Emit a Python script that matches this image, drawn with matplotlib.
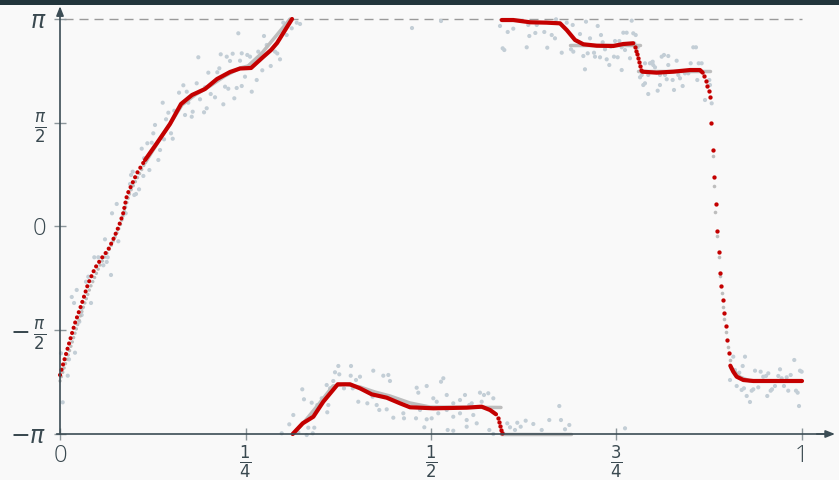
import numpy as np
import matplotlib
matplotlib.use("Agg")
import matplotlib.pyplot as plt

PI = np.pi

# ---------------- data (t in [0,1], phase in radians) ----------------
obs_t = [0.0764, 0.0885, 0.0701, 0.0606, 0.0786, 0.0643, 0.0462, 0.0516, 0.0629, 0.0584,
         0.0687, 0.0381, 0.0350, 0.0225, 0.0158, 0.0189, 0.0418, 0.0292, 0.0292, 0.0260,
         0.0202, 0.0013, 0.0121, 0.0104, 0.0036,
         0.1864, 0.1999, 0.1662, 0.1842, 0.1604, 0.1708, 0.1729, 0.1887, 0.1977, 0.1788,
         0.1685, 0.1384, 0.1460, 0.1540, 0.1429, 0.1280, 0.1257, 0.1496, 0.1402, 0.1519,
         0.1177, 0.1101, 0.1348, 0.1236, 0.1325, 0.1132, 0.1204, 0.0980, 0.0957, 0.1123,
         0.0943, 0.1065, 0.1024, 0.1001,
         0.2403, 0.2749, 0.3055, 0.3009, 0.3123, 0.3190, 0.3235, 0.2166, 0.2247, 0.2327,
         0.2449, 0.2524, 0.2561, 0.2291, 0.2426, 0.2672, 0.2786, 0.2898, 0.2928, 0.2965,
         0.2840, 0.2726, 0.2651, 0.2584, 0.2449, 0.2381, 0.2493, 0.2147, 0.2120, 0.1954,
         0.2224, 0.2268, 0.2031, 0.2089, 0.2349, 0.2201, 0.1941, 0.1775,
         0.4744, 0.5135, 0.7615,
         0.3751, 0.3922, 0.3706, 0.3764, 0.3918, 0.4043, 0.3989, 0.4222, 0.4357, 0.4425,
         0.4447, 0.3683, 0.3594, 0.3265, 0.3288, 0.3392, 0.3527, 0.3468, 0.3616, 0.3639,
         0.3827, 0.3945, 0.4020, 0.4142, 0.4214, 0.4268, 0.4303, 0.4403, 0.4492, 0.4627,
         0.4636, 0.4559, 0.3144, 0.3090, 0.2988, 0.3325, 0.3346, 0.3427, 0.3406, 0.3212,
         0.3602,
         0.4807, 0.4829, 0.4942, 0.5135, 0.5166, 0.5031, 0.5077, 0.5212, 0.5300, 0.5391,
         0.5458, 0.5549, 0.5660, 0.5714, 0.5772, 0.5840, 0.5683, 0.5516, 0.4852, 0.4942,
         0.4798, 0.5098, 0.5212, 0.5300, 0.5391, 0.5481, 0.5570, 0.4910, 0.5009, 0.5225,
         0.5300, 0.5481, 0.5616, 0.5786, 0.5840,
         0.6028, 0.6065, 0.6163, 0.6209, 0.6276, 0.6132, 0.6379, 0.6492, 0.6594, 0.6729,
         0.6752, 0.6806, 0.6864, 0.5974,
         0.5930, 0.5966, 0.5988, 0.6034, 0.6109, 0.6290, 0.6325, 0.6311, 0.6425, 0.6406,
         0.6527, 0.6567, 0.6627, 0.6671, 0.6685, 0.6829, 0.6910, 0.6762, 0.6887, 0.7008,
         0.6918, 0.7089, 0.7143, 0.7247, 0.7291, 0.7314, 0.7053, 0.7112, 0.7197, 0.7278,
         0.7210, 0.7368, 0.7422, 0.7345, 0.7480, 0.7538, 0.7570, 0.7615, 0.7466, 0.7516,
         0.7403, 0.7592, 0.7637, 0.7705, 0.7726, 0.7759, 0.7740, 0.7786, 0.7075, 0.7570,
         0.7682,
         0.7951, 0.7988, 0.7884, 0.8109, 0.8140, 0.8198, 0.8311, 0.7928, 0.7884, 0.7861,
         0.8055, 0.8086, 0.8154, 0.8177, 0.8275, 0.8257, 0.8333, 0.8356, 0.8392, 0.8423,
         0.8468, 0.8500, 0.8535, 0.8571, 0.8608, 0.8648, 0.8589, 0.8751, 0.8760, 0.8693,
         0.8783, 0.7817, 0.7840, 0.7928, 0.7995, 0.8019, 0.8198, 0.8086, 0.7974,
         0.9030, 0.9074, 0.9097, 0.9155, 0.9120, 0.9187, 0.9218, 0.9255, 0.9299, 0.9201,
         0.9232, 0.9322, 0.9344, 0.9367, 0.9411, 0.9443, 0.9478, 0.9515, 0.9546, 0.9532,
         0.9578, 0.9596, 0.9636, 0.9681, 0.9704, 0.9726, 0.9757, 0.9794, 0.9815, 0.9848,
         0.9896, 0.9919, 0.9942, 0.9960, 0.9973, 0.9996]
obs_phi = [0.341, 0.200, 0.200, -0.194, -0.224, -0.466, -0.466, -0.466, -0.537, -0.587,
           -0.734, -0.760, -0.836, -0.961, -1.067, -1.158, -1.158, -1.238, -1.340, -1.441,
           -1.911, -1.920, -2.011, -2.259, -2.662,
           2.562, 2.329, 2.138, 2.168, 2.026, 2.041, 1.874, 1.926, 1.790, 1.738,
           1.688, 1.874, 1.723, 1.753, 1.623, 1.537, 1.411, 1.411, 1.320, 1.329,
           1.260, 1.178, 1.158, 1.269, 1.007, 1.033, 0.855, 0.830, 0.780, 0.765,
           0.643, 0.563, 0.492, 0.477,
           2.925, 2.884, 2.899, 3.086, 3.001, 3.086, 3.066, 2.607, 2.571, 2.616,
           2.622, 2.597, 2.571, 2.506, 2.510, 2.647, 2.748, 2.647, 2.620, 2.531,
           2.430, 2.365, 2.218, 2.041, 2.127, 2.097, 2.268, 2.395, 2.335, 2.107,
           2.117, 2.086, 2.006, 1.956, 1.941, 1.850, 1.729, 1.662,
           3.005, 3.111, -3.055,
           -2.112, -2.112, -2.207, -2.238, -2.259, -2.274, -2.324, -2.183, -2.259, -2.248,
           -2.339, -2.339, -2.400, -2.465, -2.616, -2.668, -2.601, -2.703, -2.703, -2.450,
           -2.450, -2.450, -2.653, -2.677, -2.577, -2.703, -2.778, -2.768, -2.895, -2.828,
           -2.904, -2.627, -2.854, -2.995, -3.131, -3.157, -3.046, -3.046, -3.131, -3.116,
           -2.813,
           -2.441, -2.516, -2.415, -2.350, -2.298, -2.601, -2.653, -2.551, -2.677, -2.627,
           -2.551, -2.677, -2.516, -2.551, -2.525, -2.601, -2.653, -2.703, -2.778, -2.919,
           -2.904, -2.828, -2.778, -2.880, -2.828, -2.930, -2.854, -3.040, -2.904, -3.081,
           -3.092, -3.031, -2.980, -3.081, -3.142,
           -2.980, -3.040, -2.971, -3.031, -2.940, -3.081, -2.990, -3.081, -2.930, -2.718,
           -2.930, -3.070, -3.005, -3.131,
           3.036, 2.698, 2.672, 2.945, 2.995, 2.713, 2.884, 3.051, 3.051, 2.930,
           2.945, 2.707, 2.899, 2.849, 3.137, 3.086, 3.051, 2.631, 2.683, 2.914,
           2.647, 3.101, 2.849, 3.036, 2.899, 2.789, 2.581, 2.622, 2.631, 2.562,
           2.571, 2.531, 2.722, 2.683, 2.808, 2.808, 2.713, 2.672, 2.571, 2.562,
           2.445, 2.934, 2.934, 3.116, 2.925, 2.899, 2.774, 2.713, 2.380, 2.369,
           2.547,
           2.471, 2.495, 2.471, 2.571, 2.597, 2.581, 2.510, 2.006, 2.168, 2.142,
           2.056, 2.142, 2.294, 2.229, 2.067, 2.218, 2.294, 2.244, 2.127, 2.319,
           2.319, 2.471, 2.713, 2.713, 2.471, 2.471, 2.218, 2.218, 2.142, 1.915,
           1.865, 2.259, 2.294, 2.294, 2.445, 2.410, 2.445, 2.294, 2.480,
           -2.324, -1.971, -2.173, -2.213, -2.415, -2.475, -2.450, -2.566, -2.657, -2.112,
           -1.971, -2.486, -2.465, -2.183, -2.435, -2.198, -2.274, -2.263, -2.223, -2.566,
           -2.486, -2.465, -2.415, -2.263, -2.162, -2.298, -2.415, -2.283, -2.486, -2.248,
           -2.021, -2.486, -2.516, -2.718, -2.183, -2.198]

# true phase (gray)
true_a_t = [0.0, 0.0135, 0.0270, 0.0404, 0.0539, 0.0674, 0.0809, 0.0943, 0.1146]
true_a_phi = [-2.339, -1.855, -1.370, -0.931, -0.583, -0.326, 0.008, 0.522, 0.961]
true_b_t = [0.1146, 0.1348, 0.1482, 0.1644, 0.1819, 0.2022, 0.2224, 0.2426, 0.2534, 0.2722, 0.3100]
true_b_phi = [0.961, 1.325, 1.552, 1.840, 1.991, 2.127, 2.279, 2.400, 2.430, 2.627, PI]
true_c_t = [0.3140, 0.3302, 0.3477, 0.3679, 0.3841, 0.4043, 0.4245, 0.4447, 0.4717, 0.4987, 0.5943]
true_c_phi = [-PI, -2.945, -2.703, -2.415, -2.389, -2.430, -2.506, -2.566, -2.672, -2.733, -2.740]
true_d_t = [0.5943, 0.6887]
true_d_phi = [-PI, -PI]
true_e_t = [0.6873, 0.7817]
true_e_phi = [2.748, 2.748]
true_f_t = [0.7790, 0.8760]
true_f_phi = [2.354, 2.354]
true_drop_t = [0.8796, 0.8814, 0.8832, 0.8854, 0.8877, 0.8895, 0.8918, 0.8939, 0.8953, 0.8972, 0.8999, 0.9030]
true_drop_phi = [1.067, 0.618, 0.215, -0.144, -0.466, -0.749, -1.002, -1.214, -1.405, -1.593, -1.829, -2.021]
true_g_t = [0.9043, 0.9164, 0.9299, 1.0]
true_g_phi = [-2.142, -2.279, -2.339, -2.339]

# estimated phase (red)
est_a_t = [0.0, 0.0108, 0.0202, 0.0296, 0.0377, 0.0472, 0.0562, 0.0647, 0.0714, 0.0788, 0.0849, 0.0903, 0.1038, 0.1146]
est_a_phi = [-2.248, -1.824, -1.461, -1.158, -0.871, -0.628, -0.477, -0.356, -0.204, -0.008, 0.189, 0.477, 0.810, 1.007]
est_b_t = [0.1146, 0.1307, 0.1482, 0.1631, 0.1779, 0.1954, 0.2116, 0.2291, 0.2426, 0.2575, 0.2722, 0.2844, 0.2925, 0.3127]
est_b_phi = [1.007, 1.264, 1.552, 1.855, 1.991, 2.082, 2.233, 2.339, 2.392, 2.400, 2.551, 2.672, 2.778, PI]
est_c_t = [0.3136, 0.3271, 0.3414, 0.3548, 0.3743, 0.3908, 0.4043, 0.4201, 0.4403, 0.4582, 0.4717, 0.5031, 0.5481, 0.5683, 0.5795, 0.5876]
est_c_phi = [-PI, -2.980, -2.880, -2.653, -2.389, -2.389, -2.450, -2.541, -2.592, -2.677, -2.737, -2.752, -2.743, -2.728, -2.778, -2.843]
est_c_drop_t = [0.5899, 0.5912, 0.5926, 0.5939, 0.5953]
est_c_drop_phi = [-2.904, -2.964, -3.025, -3.086, -3.122]
est_d_t = [0.5953, 0.6109, 0.6334, 0.6559, 0.6739, 0.6829, 0.6941, 0.7053, 0.7233, 0.7457, 0.7592, 0.7726]
est_d_phi = [3.126, 3.126, 3.092, 3.086, 3.076, 2.975, 2.824, 2.759, 2.737, 2.733, 2.763, 2.774]
est_d_drop_t = [0.7749, 0.7763, 0.7776, 0.7790, 0.7803, 0.7817, 0.7830]
est_d_drop_phi = [2.722, 2.657, 2.612, 2.551, 2.491, 2.430, 2.369]
est_e_t = [0.7848, 0.8042, 0.8265, 0.8491, 0.8625, 0.8662]
est_e_phi = [2.344, 2.329, 2.344, 2.369, 2.369, 2.329]
est_e_drop_t = [0.8683, 0.8702, 0.8724, 0.8747, 0.8764, 0.8774, 0.8801, 0.8814, 0.8841, 0.8854, 0.8881,
                0.8895, 0.8908, 0.8935, 0.8949, 0.8976, 0.8989, 0.9016]
est_e_drop_phi = [2.279, 2.203, 2.127, 2.052, 1.961, 1.567, 1.158, 0.749, 0.341, -0.068, -0.386,
                  -0.704, -0.901, -1.113, -1.310, -1.506, -1.718, -1.915]
est_f_t = [0.9034, 0.9074, 0.9120, 0.9209, 0.9344, 0.9613, 1.0]
est_f_phi = [-2.107, -2.198, -2.274, -2.324, -2.339, -2.339, -2.339]

x_ticks = [0, 0.25, 0.5, 0.75, 1]
x_labels = ["0", r"$\frac{1}{4}$", r"$\frac{1}{2}$", r"$\frac{3}{4}$", "1"]
y_ticks = [-PI, -PI / 2, 0, PI / 2, PI]
y_labels = [r"$-\pi$", r"$-\,\frac{\pi}{2}$", "0", r"$\frac{\pi}{2}$", r"$\pi$"]

# ---------------- style ----------------
BG = "#f9f9f9"
AX = "#3c4d55"
TXT = "#3a4950"
RED = "#c40000"
GRAY = "#bdbdbd"
OBS = "#c3ced6"

plt.rcParams["font.family"] = ["Open Sans", "DejaVu Sans"]
plt.rcParams["mathtext.fontset"] = "dejavusans"

fig = plt.figure(figsize=(8.39, 4.80), dpi=100, facecolor=BG)
ax = fig.add_axes([0, 0, 1, 1])
ax.set_facecolor(BG)
ax.set_xlim(-0.0809, 1.0499)
ax.set_ylim(-3.838, 3.4292)

# top band
fig.patches.append(plt.Rectangle((0, 0.99), 1, 0.01, transform=fig.transFigure,
                                 facecolor="#22353c", edgecolor="none", zorder=10))

# dashed pi line
ax.plot([0.005, 1.0], [PI, PI], color="#9a9a9a", lw=1.0, ls=(0, (6.5, 4.3)), zorder=1)

# observations
ax.scatter(obs_t, obs_phi, s=9, color=OBS, edgecolors="none", zorder=2)

# true phase
dot = (0, (0.01, 1.3))
lw_g = 2.5
ax.plot(true_a_t, true_a_phi, color=GRAY, lw=lw_g, ls=dot, dash_capstyle="round", zorder=3)
for tt, pp in [(true_b_t, true_b_phi), (true_c_t, true_c_phi), (true_d_t, true_d_phi),
               (true_e_t, true_e_phi), (true_f_t, true_f_phi), (true_g_t, true_g_phi)]:
    ax.plot(tt, pp, color=GRAY, lw=lw_g, solid_capstyle="round", zorder=3)
ax.plot(true_drop_t, true_drop_phi, ls="none", marker="o", ms=2.6, mew=0, color=GRAY, zorder=3)

# estimated phase
lw_r = 3.0
ax.plot(est_a_t, est_a_phi, color=RED, lw=lw_r, ls=dot, dash_capstyle="round", zorder=4)
for tt, pp in [(est_b_t, est_b_phi), (est_c_t, est_c_phi), (est_d_t, est_d_phi),
               (est_e_t, est_e_phi), (est_f_t, est_f_phi)]:
    ax.plot(tt, pp, color=RED, lw=lw_r, solid_capstyle="round", zorder=4)
for tt, pp in [(est_c_drop_t, est_c_drop_phi), (est_d_drop_t, est_d_drop_phi),
               (est_e_drop_t, est_e_drop_phi)]:
    ax.plot(tt, pp, ls="none", marker="o", ms=3.1, mew=0, color=RED, zorder=4)

# axes
for s in ["top", "right"]:
    ax.spines[s].set_visible(False)
ax.spines["left"].set_position(("data", 0))
ax.spines["bottom"].set_position(("data", -PI))
ax.spines["left"].set_bounds(-PI, 3.30)
ax.spines["bottom"].set_bounds(-0.004, 1.040)
for s in ["left", "bottom"]:
    ax.spines[s].set_color(AX)
    ax.spines[s].set_linewidth(1.2)
    ax.spines[s].set_zorder(5)
ax.annotate("", xy=(0, 3.335), xytext=(0, 3.20),
            arrowprops=dict(arrowstyle="-|>,head_length=0.55,head_width=0.22", color=AX, lw=1.2,
                            shrinkA=0, shrinkB=0), zorder=6)
ax.annotate("", xy=(1.0445, -PI), xytext=(1.02, -PI),
            arrowprops=dict(arrowstyle="-|>,head_length=0.55,head_width=0.22", color=AX, lw=1.2,
                            shrinkA=0, shrinkB=0), zorder=6)

ax.set_xticks(x_ticks)
ax.set_xticklabels(x_labels)
ax.set_yticks(y_ticks)
ax.set_yticklabels(y_labels)
ax.tick_params(axis="both", direction="inout", length=8, width=1.0, color="#8c969b",
               labelcolor=TXT, labelsize=17)
ax.tick_params(axis="x", pad=3)
ax.tick_params(axis="y", pad=6)
for lab in ax.get_xticklabels() + ax.get_yticklabels():
    lab.set_fontweight("light")

fig.savefig("out.png", dpi=100, facecolor=BG)
